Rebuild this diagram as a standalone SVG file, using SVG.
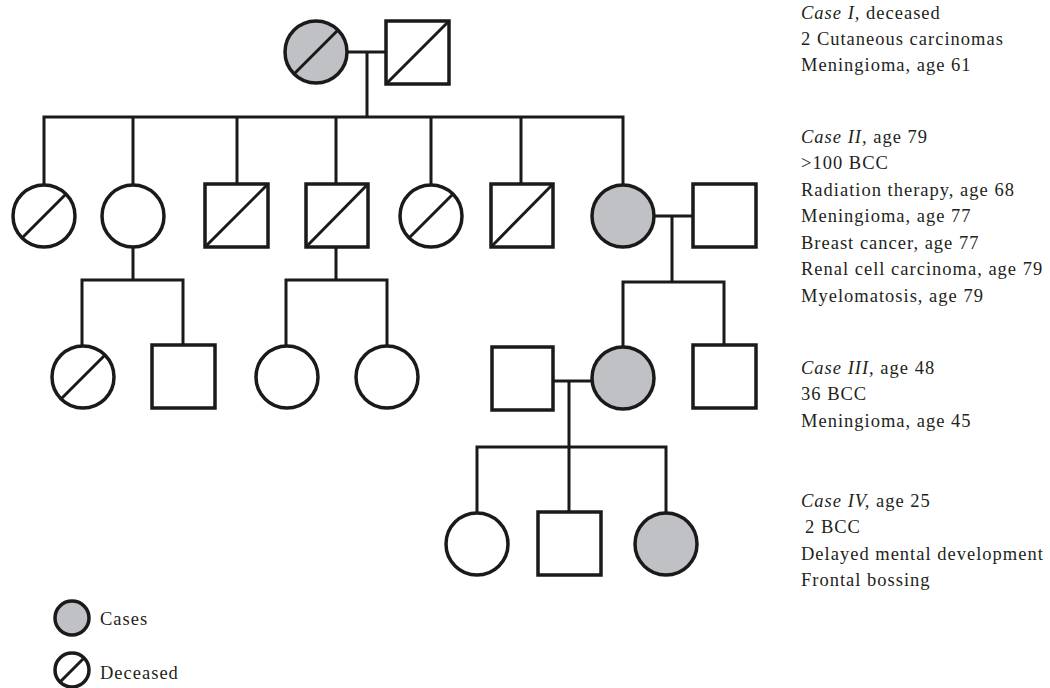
<svg xmlns="http://www.w3.org/2000/svg" width="1050" height="688" viewBox="0 0 1050 688">
<style>
.n{fill:#fff;stroke:#1a1a1a;stroke-width:3.5}
.a{fill:#c0c1c4;stroke:#1a1a1a;stroke-width:3.5}
.d{stroke:#1a1a1a;stroke-width:3;fill:none}
.l{stroke:#1a1a1a;stroke-width:3;fill:none;stroke-linecap:square}
text{font-family:"Liberation Serif","Times New Roman",serif;font-size:18.5px;fill:#231f20;letter-spacing:1px}
.i{font-style:italic}
</style>
<rect width="1050" height="688" fill="#fff"/>
<g id="connectors">
<path class="l" d="M348 52H386M367 52V117M44 117H623M44 117V184M133 117V184M237 117V184M336 117V184M431 117V184M521 117V184M623 117V184"/>
<path class="l" d="M655 216H693M672 216V282M623 282H724M623 282V346M724 282V345"/>
<path class="l" d="M133 248V280M82 280H183M82 280V345M183 280V345"/>
<path class="l" d="M336 248V280M286 280H387M286 280V345M387 280V345"/>
<path class="l" d="M553 381H591M569 381V447M477 447H666M477 447V512M569 447V512M666 447V512"/>
</g>
<g id="I-1"><circle class="a" cx="316" cy="52" r="31"/><line class="d" x1="294" y1="74" x2="338" y2="30"/></g>
<g id="I-2"><rect class="n" x="386" y="21" width="63" height="63"/><line class="d" x1="386" y1="84" x2="449" y2="21"/></g>
<g id="II-1"><circle class="n" cx="44" cy="216" r="31"/><line class="d" x1="22" y1="238" x2="66" y2="194"/></g>
<g id="II-2"><circle class="n" cx="133" cy="216" r="31"/></g>
<g id="II-3"><rect class="n" x="205" y="184" width="63" height="63"/><line class="d" x1="205" y1="247" x2="268" y2="184"/></g>
<g id="II-4"><rect class="n" x="306" y="184" width="62" height="63"/><line class="d" x1="306" y1="247" x2="368" y2="184"/></g>
<g id="II-5"><circle class="n" cx="431" cy="216" r="31"/><line class="d" x1="409" y1="238" x2="453" y2="194"/></g>
<g id="II-6"><rect class="n" x="491" y="184" width="62" height="63"/><line class="d" x1="491" y1="247" x2="553" y2="184"/></g>
<g id="II-7"><circle class="a" cx="623" cy="216" r="31"/></g>
<g id="II-8"><rect class="n" x="693" y="184" width="63" height="63"/></g>
<g id="III-1"><circle class="n" cx="83" cy="377" r="31"/><line class="d" x1="61" y1="399" x2="105" y2="355"/></g>
<g id="III-2"><rect class="n" x="152" y="345" width="63" height="63"/></g>
<g id="III-3"><circle class="n" cx="287" cy="377" r="31"/></g>
<g id="III-4"><circle class="n" cx="387" cy="377" r="31"/></g>
<g id="III-5"><rect class="n" x="492" y="347" width="61" height="63"/></g>
<g id="III-6"><circle class="a" cx="623" cy="378" r="31"/></g>
<g id="III-7"><rect class="n" x="693" y="345" width="63" height="63"/></g>
<g id="IV-1"><circle class="n" cx="477" cy="544" r="31"/></g>
<g id="IV-2"><rect class="n" x="538" y="512" width="63" height="63"/></g>
<g id="IV-3"><circle class="a" cx="666" cy="544" r="31"/></g>
<g id="legend">
<circle class="a" cx="72" cy="618" r="17"/>
<text x="100" y="625">Cases</text>
<circle class="n" cx="72" cy="670" r="17"/><line class="d" x1="60" y1="682" x2="84" y2="658"/>
<text x="100" y="679">Deceased</text>
</g>
<g id="notes">
<text x="801" y="19"><tspan class="i">Case I,</tspan> deceased</text>
<text x="801" y="45">2 Cutaneous carcinomas</text>
<text x="801" y="71">Meningioma, age 61</text>
<text x="801" y="143"><tspan class="i">Case II,</tspan> age 79</text>
<text x="801" y="169">&gt;100 BCC</text>
<text x="801" y="196">Radiation therapy, age 68</text>
<text x="801" y="222">Meningioma, age 77</text>
<text x="801" y="249">Breast cancer, age 77</text>
<text x="801" y="275">Renal cell carcinoma, age 79</text>
<text x="801" y="302">Myelomatosis, age 79</text>
<text x="801" y="374"><tspan class="i">Case III,</tspan> age 48</text>
<text x="801" y="400">36 BCC</text>
<text x="801" y="427">Meningioma, age 45</text>
<text x="801" y="507"><tspan class="i">Case IV,</tspan> age 25</text>
<text x="805" y="533">2 BCC</text>
<text x="801" y="560">Delayed mental development</text>
<text x="801" y="586">Frontal bossing</text>
</g>
</svg>
